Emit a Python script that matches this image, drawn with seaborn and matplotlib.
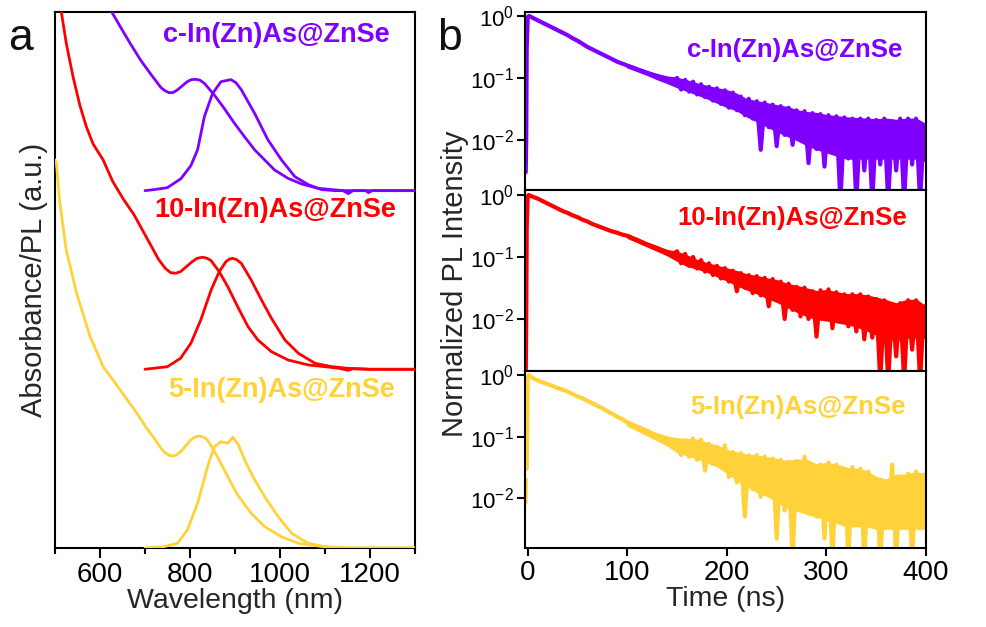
import numpy as np
import pandas as pd
import matplotlib
matplotlib.use("Agg")
import matplotlib.pyplot as plt
import seaborn as sns
from matplotlib.ticker import NullLocator, FixedLocator

# ---------------- data: panel a (absorbance / PL spectra, a.u.) ----------------
samples = ["c-In(Zn)As@ZnSe", "10-In(Zn)As@ZnSe", "5-In(Zn)As@ZnSe"]
colors = ["#8000FF", "#FF0000", "#FFD23A"]
offsets = [3.573, 1.787, 0.0]

c_abs_wl = [600, 626, 645, 667, 690, 712, 735, 744, 753, 762, 772, 794, 803, 813, 822, 832,
            854, 876, 899, 921, 944, 966, 988, 1018, 1048, 1085, 1123, 1140, 1152, 1162, 1190,
            1197, 1205, 1300]
c_abs = [1.98, 1.787, 1.64, 1.473, 1.307, 1.17, 1.033, 1.0, 0.98, 0.98, 1.007, 1.09, 1.11,
         1.113, 1.105, 1.073, 0.957, 0.823, 0.673, 0.54, 0.407, 0.307, 0.207, 0.123, 0.067,
         0.023, 0.007, 0.0, -0.03, 0.0, 0.0, -0.02, 0.0, 0.0]
c_pl_wl = [700, 720, 750, 780, 802, 817, 832, 850, 869, 880, 891, 902, 914, 944, 973, 1003,
           1033, 1063, 1093, 1123, 1300]
c_pl = [0.0, 0.01, 0.03, 0.12, 0.25, 0.41, 0.74, 0.97, 1.09, 1.10, 1.11, 1.08, 1.01, 0.77,
        0.51, 0.31, 0.14, 0.06, 0.01, 0.0, 0.0]

r_abs_wl = [505, 514, 525, 540, 555, 570, 585, 607, 628, 652, 675, 697, 730, 745, 757, 768,
            779, 805, 816, 828, 838, 847, 865, 884, 906, 929, 951, 981, 1018, 1063, 1100, 1130,
            1152, 1162, 1200, 1300]
r_abs = [3.85, 3.573, 3.26, 2.926, 2.643, 2.42, 2.25, 2.093, 1.88, 1.70, 1.55, 1.37, 1.10,
         1.01, 0.966, 0.96, 0.976, 1.076, 1.11, 1.12, 1.11, 1.086, 0.976, 0.826, 0.626, 0.426,
         0.293, 0.176, 0.093, 0.043, 0.026, 0.01, -0.01, 0.005, 0.0, 0.0]
r_pl_wl = [700, 750, 779, 802, 824, 847, 865, 880, 887, 895, 904, 914, 936, 959, 981, 1011,
           1041, 1078, 1115, 1150, 1200, 1300]
r_pl = [0.0, 0.026, 0.11, 0.26, 0.493, 0.793, 0.976, 1.076, 1.10, 1.11, 1.095, 1.06, 0.893,
        0.693, 0.51, 0.293, 0.16, 0.06, 0.026, 0.01, 0.0, 0.0]

y_abs_wl = [500, 503, 510, 525, 548, 578, 607, 645, 682, 705, 720, 735, 745, 757, 768, 779,
            802, 811, 820, 830, 839, 861, 884, 906, 936, 966, 1003, 1041, 1085, 1120, 1150, 1300]
y_abs = [3.88, 3.85, 3.48, 2.98, 2.547, 2.113, 1.813, 1.58, 1.347, 1.19, 1.10, 1.00, 0.95,
         0.92, 0.925, 0.963, 1.08, 1.11, 1.12, 1.11, 1.08, 0.913, 0.713, 0.53, 0.347, 0.213,
         0.113, 0.047, 0.02, 0.005, 0.0, 0.0]
y_pl_wl = [700, 742, 772, 794, 817, 839, 854, 869, 884, 895, 906, 925, 944, 966, 996, 1026,
           1063, 1100, 1150, 1300]
y_pl = [0.0, 0.013, 0.047, 0.18, 0.447, 0.813, 1.013, 1.063, 1.047, 1.107, 1.047, 0.847, 0.68,
        0.513, 0.313, 0.147, 0.047, 0.013, 0.0, 0.0]

wl_ticks = [600, 800, 1000, 1200]
wl_minor = [500, 700, 900, 1100, 1300]

# ---------------- data: panel b (normalized PL decays) ----------------
time_ns = [-2.2, -2.0, -1.5, -1.0, 0.0, 1.0, 2.0] + list(range(5, 150, 5)) + list(range(150, 400, 4))

decay_c = ([np.nan, 0.003, 0.01, 0.3, 0.95, 1.0, 0.99] +
           [0.933, 0.851, 0.776, 0.708, 0.646, 0.589, 0.537, 0.490, 0.437, 0.398,
            0.355, 0.316, 0.288, 0.263, 0.240, 0.219, 0.200, 0.182, 0.170, 0.158,
            0.148, 0.138, 0.129, 0.120, 0.112, 0.105, 0.100, 0.093, 0.087] +
           [0.100, 0.065, 0.093, 0.060, 0.087, 0.054, 0.079, 0.049, 0.072, 0.043,
            0.068, 0.038, 0.063, 0.033, 0.058, 0.030, 0.050, 0.025, 0.046, 0.022,
            0.042, 0.0069, 0.040, 0.016, 0.037, 0.0079, 0.035, 0.012, 0.033, 0.0083,
            0.030, 0.010, 0.029, 0.0042, 0.027, 0.0071, 0.026, 0.0037, 0.025, 0.0063,
            0.024, 0.001, 0.023, 0.005, 0.022, 0.001, 0.022, 0.0032, 0.022, 0.001,
            0.021, 0.004, 0.022, 0.001, 0.020, 0.0032, 0.022, 0.001, 0.022, 0.004,
            0.022, 0.001, 0.017])

decay_10 = ([np.nan, 0.001, 0.01, 0.3, 0.95, 1.0, 0.98] +
            [0.933, 0.871, 0.794, 0.724, 0.661, 0.603, 0.550, 0.513, 0.468, 0.437,
             0.398, 0.372, 0.339, 0.316, 0.295, 0.275, 0.257, 0.245, 0.229, 0.219,
             0.200, 0.186, 0.170, 0.158, 0.148, 0.138, 0.126, 0.117, 0.110] +
            [0.123, 0.079, 0.112, 0.072, 0.100, 0.065, 0.089, 0.058, 0.079, 0.051,
             0.072, 0.045, 0.066, 0.040, 0.060, 0.028, 0.055, 0.032, 0.051, 0.026,
             0.049, 0.024, 0.046, 0.016, 0.044, 0.020, 0.040, 0.010, 0.037, 0.014,
             0.033, 0.011, 0.032, 0.010, 0.028, 0.0052, 0.029, 0.010, 0.030, 0.0071,
             0.027, 0.0089, 0.025, 0.0076, 0.025, 0.0063, 0.025, 0.0047, 0.023, 0.005,
             0.021, 0.001, 0.020, 0.001, 0.017, 0.0025, 0.018, 0.001, 0.020, 0.0032,
             0.020, 0.001, 0.016])

decay_5 = ([0.0085, 0.02, np.nan, 0.03, 0.9, 1.0, 0.97] +
           [0.891, 0.813, 0.759, 0.708, 0.661, 0.617, 0.575, 0.537, 0.490, 0.447,
            0.417, 0.380, 0.347, 0.316, 0.288, 0.257, 0.234, 0.209, 0.191, 0.170,
            0.155, 0.141, 0.129, 0.117, 0.107, 0.098, 0.089, 0.081, 0.076] +
           [0.089, 0.050, 0.087, 0.047, 0.093, 0.042, 0.089, 0.028, 0.076, 0.036,
            0.068, 0.032, 0.072, 0.022, 0.056, 0.018, 0.054, 0.005, 0.050, 0.014,
            0.050, 0.0105, 0.047, 0.011, 0.044, 0.0022, 0.042, 0.0063, 0.039, 0.001,
            0.040, 0.0063, 0.047, 0.0056, 0.035, 0.005, 0.035, 0.0022, 0.038, 0.001,
            0.035, 0.004, 0.030, 0.001, 0.032, 0.005, 0.030, 0.001, 0.027, 0.0045,
            0.020, 0.001, 0.015, 0.004, 0.035, 0.001, 0.022, 0.005, 0.025, 0.001,
            0.027, 0.0032, 0.024])

# dense noise band (upper / lower edge of the filled core) read every 10 ns
band_t = list(range(100, 401, 10))
band_hi_c = [0.166, 0.145, 0.129, 0.115, 0.105, 0.100, 0.091, 0.081, 0.074, 0.068, 0.063,
             0.055, 0.045, 0.042, 0.039, 0.036, 0.034, 0.030, 0.028, 0.027, 0.025, 0.024,
             0.023, 0.0224, 0.0219, 0.0214, 0.0219, 0.0209, 0.0219, 0.0219, 0.0178]
band_lo_c = [0.148, 0.129, 0.112, 0.0955, 0.083, 0.071, 0.062, 0.054, 0.047, 0.040, 0.034,
             0.030, 0.024, 0.020, 0.0166, 0.0138, 0.0117, 0.010, 0.0083, 0.0071, 0.0063,
             0.0056, 0.005, 0.005, 0.005, 0.005, 0.005, 0.005, 0.005, 0.005, 0.0045]
band_hi_10 = [0.234, 0.200, 0.170, 0.148, 0.129, 0.120, 0.105, 0.089, 0.079, 0.072, 0.065,
              0.059, 0.052, 0.049, 0.045, 0.042, 0.037, 0.034, 0.031, 0.028, 0.029, 0.027,
              0.025, 0.025, 0.024, 0.022, 0.020, 0.0178, 0.020, 0.0204, 0.0158]
band_lo_10 = [0.204, 0.174, 0.148, 0.126, 0.107, 0.087, 0.072, 0.065, 0.058, 0.049, 0.042,
              0.035, 0.030, 0.026, 0.022, 0.019, 0.0158, 0.0132, 0.0112, 0.010, 0.0095,
              0.0089, 0.0083, 0.0076, 0.0066, 0.0056, 0.005, 0.0045, 0.005, 0.005, 0.005]
band_hi_5 = [0.182, 0.155, 0.132, 0.112, 0.100, 0.093, 0.091, 0.089, 0.079, 0.071, 0.060,
             0.055, 0.051, 0.049, 0.046, 0.043, 0.040, 0.042, 0.042, 0.035, 0.037, 0.035,
             0.031, 0.030, 0.0275, 0.0219, 0.020, 0.024, 0.024, 0.0263, 0.024]
band_lo_5 = [0.151, 0.126, 0.105, 0.087, 0.072, 0.056, 0.050, 0.044, 0.038, 0.033, 0.026,
             0.020, 0.0158, 0.0126, 0.011, 0.0089, 0.0071, 0.0063, 0.0056, 0.005, 0.0045,
             0.004, 0.0035, 0.0035, 0.0035, 0.0032, 0.0032, 0.0032, 0.0032, 0.0032, 0.0032]

time_ticks = [0, 100, 200, 300, 400]
log_ticks = [1, 0.1, 0.01]

# ---------------- style ----------------
sns.set_style("ticks")
plt.rcParams["font.family"] = ["Liberation Sans", "DejaVu Sans"]
plt.rcParams["mathtext.fontset"] = "custom"
plt.rcParams["mathtext.rm"] = "Liberation Sans"
plt.rcParams["mathtext.it"] = "Liberation Sans:italic"
plt.rcParams["mathtext.bf"] = "Liberation Sans:bold"
plt.rcParams["axes.edgecolor"] = "black"
plt.rcParams["axes.linewidth"] = 1.5
plt.rcParams["xtick.color"] = "black"
plt.rcParams["ytick.color"] = "black"
plt.rcParams["text.color"] = "#111111"

fig = plt.figure(figsize=(9.86, 6.27), dpi=100)

# ---------------- panel a ----------------
axL = fig.add_axes([0.0558, 0.126, 0.365, 0.855])
rows = []
spec = [(c_abs_wl, c_abs, c_pl_wl, c_pl), (r_abs_wl, r_abs, r_pl_wl, r_pl),
        (y_abs_wl, y_abs, y_pl_wl, y_pl)]
for name, off, (awl, a, pwl, p) in zip(samples, offsets, spec):
    for w, v in zip(awl, a):
        rows.append({"wl": w, "y": v + off, "sample": name, "kind": "abs"})
    for w, v in zip(pwl, p):
        rows.append({"wl": w, "y": v + off, "sample": name, "kind": "pl"})
spec_df = pd.DataFrame(rows)
sns.lineplot(data=spec_df, x="wl", y="y", hue="sample", units="kind", estimator=None,
             sort=False, palette=dict(zip(samples, colors)), lw=2.0, legend=False,
             ax=axL, zorder=3)
axL.set_xlim(500, 1300)
axL.set_ylim(0, 5.36)
axL.set_yticks([])
axL.xaxis.set_major_locator(FixedLocator(wl_ticks))
axL.xaxis.set_minor_locator(FixedLocator(wl_minor))
axL.tick_params(axis="x", which="major", direction="out", length=7, width=1.5,
                labelsize=20, pad=3)
axL.tick_params(axis="x", which="minor", direction="out", length=4, width=1.5)
axL.set_xlabel("Wavelength (nm)", fontsize=20.5, labelpad=0)
axL.set_ylabel("Absorbance/PL (a.u.)", fontsize=21)
axL.yaxis.set_label_coords(-0.02, 0.5)
lab_pos_a = [(0.614, 0.957), (0.611, 0.631), (0.628, 0.295)]
for name, col, (x, y) in zip(samples, colors, lab_pos_a):
    axL.text(x, y, name, transform=axL.transAxes, color=col, fontsize=19.5, fontweight="bold",
             ha="center", va="center")

# ---------------- panel b ----------------
lft, wid = 0.5325, 0.4067
axT = fig.add_axes([lft, 0.697, wid, 0.2839])
axM = fig.add_axes([lft, 0.4083, wid, 0.2887])
axB = fig.add_axes([lft, 0.126, wid, 0.2823])
ylims = [(0.00155, 1.16), (0.00145, 1.20), (0.00155, 1.16)]
lab_pos_b = [(0.673, 0.787), (0.666, 0.845), (0.681, 0.797)]
bands = [(band_hi_c, band_lo_c), (band_hi_10, band_lo_10), (band_hi_5, band_lo_5)]
for ax, dec, (bhi, blo), col, name, yl, (lx, ly) in zip(
        [axT, axM, axB], [decay_c, decay_10, decay_5], bands, colors, samples, ylims, lab_pos_b):
    d = pd.DataFrame({"t": time_ns, "I": dec})
    d["seg"] = d["I"].isna().cumsum()
    d = d.dropna()
    ax.fill_between(band_t, blo, bhi, color=col, lw=1.0, edgecolor=col)
    sns.lineplot(data=d, x="t", y="I", units="seg", estimator=None, sort=False,
                 color=col, lw=3.0, legend=False, ax=ax)
    ax.set_yscale("log")
    ax.set_ylim(*yl)
    ax.set_xlim(-2.7, 400)
    ax.set_yticks(log_ticks)
    ax.yaxis.set_minor_locator(NullLocator())
    ax.xaxis.set_major_locator(FixedLocator(time_ticks))
    ax.xaxis.set_minor_locator(NullLocator())
    ax.tick_params(axis="y", which="major", direction="out", length=6, width=1.5,
                   labelsize=16, pad=2)
    ax.tick_params(axis="x", which="major", direction="out", length=6, width=1.5,
                   labelsize=20, pad=3)
    ax.set_xlabel("")
    ax.set_ylabel("")
    ax.text(lx, ly, name, transform=ax.transAxes, color=col, fontsize=18.5,
            fontweight="bold", ha="center", va="center")
for ax in (axT, axM):
    ax.tick_params(axis="x", bottom=False, labelbottom=False)
axB.set_xlabel("Time (ns)", fontsize=20.5, labelpad=0)
axM.set_ylabel("Normalized PL Intensity", fontsize=21)
axM.yaxis.set_label_coords(-0.14, 0.48)

fig.text(8 / 986, 1 - 50 / 627, "a", fontsize=32, va="baseline", ha="left")
fig.text(437 / 986, 1 - 50 / 627, "b", fontsize=32, va="baseline", ha="left")

fig.savefig("out.png", dpi=100)
